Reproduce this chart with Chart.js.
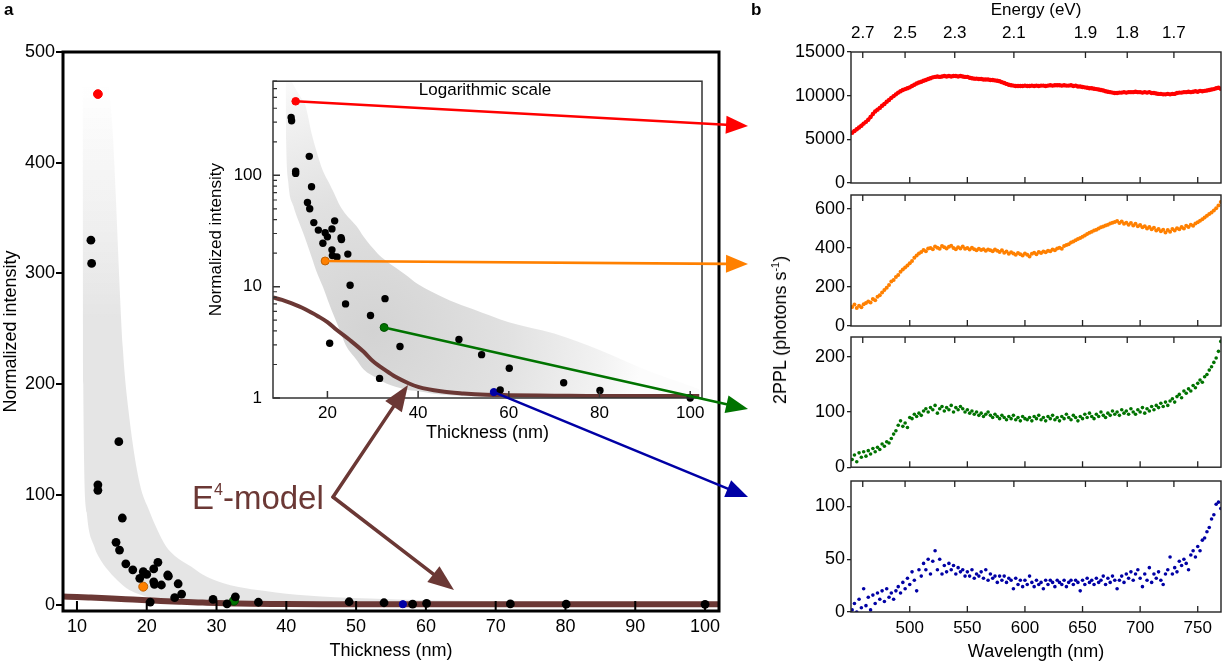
<!DOCTYPE html>
<html>
<head>
<meta charset="utf-8">
<script src="https://cdn.jsdelivr.net/npm/chart.js@4.4.1/dist/chart.umd.min.js"></script>
<style>
  body { margin: 0; background: #fff; font-family: 'Liberation Sans', Arial, sans-serif; }
  #page { position: relative; width: 1225px; height: 665px; overflow: hidden; background: #fff; }
  canvas { position: absolute; }
  .lbl { position: absolute; white-space: nowrap; color: #000; line-height: 1; }
</style>
</head>
<body>
<div id="page">
  <canvas id="mainChart" width="740" height="665" style="left:0px;top:0px"></canvas>
  <canvas id="insetChart" width="510" height="390" style="left:200px;top:60px"></canvas>
  <canvas id="redChart" width="465" height="200" style="left:760px;top:0px"></canvas>
  <canvas id="orangeChart" width="465" height="160" style="left:760px;top:180px"></canvas>
  <canvas id="greenChart" width="465" height="160" style="left:760px;top:320px"></canvas>
  <canvas id="blueChart" width="465" height="205" style="left:760px;top:460px"></canvas>
  <canvas id="arrows" width="1225" height="665" style="left:0px;top:0px"></canvas>
  <div class="lbl" style="left:4px;top:0px;font-weight:bold;font-size:17px;line-height:normal">a</div>
  <div class="lbl" style="left:751px;top:0px;font-weight:bold;font-size:17px;line-height:normal">b</div>
  <div class="lbl" style="left:485px;top:89px;font-size:17px;transform:translate(-50%,-50%)">Logarithmic scale</div>
  <div class="lbl" style="left:192px;top:497px;font-size:33px;color:#6b3835;transform:translateY(-50%)">E<span style="font-size:16px;position:relative;top:-14px">4</span>-model</div>
  <div class="lbl" style="left:780px;top:330px;font-size:18px;transform:translate(-50%,-50%) rotate(-90deg)">2PPL (photons s<span style="font-size:11px;position:relative;top:-7px">-1</span>)</div>
</div>
<script>
// ---- panel a: thickness dependence ----
const thickness = [12.0, 12.1, 13.0, 13.0, 15.6, 16.0, 16.1, 16.5, 17.0, 18.0, 19.0, 19.5, 20.0, 20.5, 21.0, 21.0, 21.1, 21.6, 22.1, 23.0, 23.1, 24.0, 24.5, 25.0, 29.5, 31.5, 32.7, 36.0, 49.0, 54.0, 58.1, 60.1, 72.1, 80.1, 100];
const intensity = [330, 309, 109, 104, 57, 148, 50, 79, 37.6, 32.2, 24.5, 30.5, 28, 3.1, 33, 21.4, 19, 39, 18.5, 27.5, 26.5, 7.0, 19.6, 10.3, 5.5, 1.5, 7.8, 2.9, 3.35, 2.45, 1.18, 1.85, 1.37, 1.17, 1.0];

// the four samples whose spectra are shown in b (red, orange, green, blue)
const hlThickness = [13.0, 19.5, 32.5, 56.7];
const hlIntensity = [462, 17, 4.3, 1.13];

// grey band (spread of the data)
const bandT    = [10.8, 10.9, 11.4, 12.5, 13.5, 14.7, 15.1, 16.6, 17.5, 19, 20.4, 21.4, 22.8, 24, 26.4, 28, 31, 33, 37, 40, 43, 47, 52, 60, 70, 80, 90, 102];
const bandLow  = [440, 200, 84, 53, 40, 30, 27, 18, 14, 10, 7, 5.5, 4, 3, 2.2, 1.8, 1.5, 1.35, 1.2, 1.15, 1.1, 1.06, 1.03, 1.01, 1, 1, 1, 1];
const bandHigh = [900, 880, 800, 650, 550, 460, 430, 230, 170, 110, 85, 70, 53, 45, 35, 28, 20, 17, 13, 10.5, 9, 7.5, 6.3, 4.8, 3.8, 2.7, 1.8, 1.2];

// E4-model curve
const modelT = [8, 10, 12, 15, 18, 20, 22, 25, 28, 30, 33, 35, 38, 40, 45, 50, 55, 60, 70, 80, 90, 102];
const modelV = [8.0, 7.6, 7.1, 6.3, 5.4, 4.8, 4.1, 3.3, 2.6, 2.15, 1.75, 1.55, 1.35, 1.26, 1.15, 1.1, 1.07, 1.06, 1.05, 1.04, 1.04, 1.04];

const mainXTicks = [10, 20, 30, 40, 50, 60, 70, 80, 90, 100];
const mainYTicks = [0, 100, 200, 300, 400, 500];
const insetXTicks = [20, 40, 60, 80, 100];
const insetYTicks = [1, 10, 100];
const insetMinorTicks = [2, 3, 4, 5, 6, 7, 8, 9, 20, 30, 40, 50, 60, 70, 80, 90, 200, 300, 400, 500, 600, 700];

// ---- panel b: 2PPL spectra ----
const wavelength = [
  450,452,454,456,458,460,462,464,466,468,470,472,474,476,478,480,482,484,486,488,
  490,492,494,496,498,500,502,504,506,508,510,512,514,516,518,520,522,524,526,528,
  530,532,534,536,538,540,542,544,546,548,550,552,554,556,558,560,562,564,566,568,
  570,572,574,576,578,580,582,584,586,588,590,592,594,596,598,600,602,604,606,608,
  610,612,614,616,618,620,622,624,626,628,630,632,634,636,638,640,642,644,646,648,
  650,652,654,656,658,660,662,664,666,668,670,672,674,676,678,680,682,684,686,688,
  690,692,694,696,698,700,702,704,706,708,710,712,714,716,718,720,722,724,726,728,
  730,732,734,736,738,740,742,744,746,748,750,752,754,756,758,760,762,764,766,768,
  770];
const redSpec = [
  5750,5950,6150,6350,6550,6800,7000,7250,7550,7900,8200,8400,8600,8850,9050,9300,9500,9750,9950,10150,
  10350,10500,10650,10750,10850,10950,11100,11250,11400,11500,11600,11700,11800,11900,12000,12100,12150,12200,12150,12200,
  12250,12200,12250,12200,12250,12250,12200,12250,12200,12150,12150,12050,12000,11950,11950,11900,11900,11850,11850,11850,
  11800,11800,11750,11700,11650,11550,11450,11350,11250,11200,11150,11100,11100,11100,11100,11150,11100,11100,11150,11100,
  11150,11100,11150,11150,11100,11150,11200,11150,11200,11200,11200,11150,11200,11150,11150,11200,11100,11150,11050,11050,
  11000,10950,10900,10850,10850,10800,10750,10700,10650,10600,10500,10450,10400,10350,10300,10300,10350,10350,10400,10350,
  10400,10400,10400,10450,10400,10400,10350,10400,10350,10400,10300,10300,10250,10200,10200,10150,10150,10200,10150,10200,
  10200,10300,10350,10350,10400,10400,10450,10400,10450,10500,10450,10550,10500,10550,10600,10650,10700,10750,10850,10900,
  10800];
const orangeSpec = [
  98,110,92,104,96,112,118,126,120,138,132,150,158,172,185,196,210,228,236,252,
  262,278,290,300,310,322,334,350,362,372,380,390,384,398,400,394,408,402,396,410,
  404,398,406,412,400,394,404,398,408,396,400,392,402,394,388,396,390,394,386,392,
  388,384,392,386,380,388,376,382,370,378,372,366,374,368,362,372,366,356,370,376,
  368,380,374,382,378,386,384,392,388,398,402,396,410,416,420,428,434,440,446,452,
  458,464,472,478,484,490,494,500,506,510,516,520,526,530,534,538,528,536,524,530,
  520,528,516,524,512,518,506,512,500,508,496,504,490,498,486,494,480,492,484,498,
  490,502,496,508,500,514,508,520,514,526,532,540,548,556,566,574,582,592,604,618,
  636];
const greenSpec = [
  14,22,10,26,18,28,20,30,24,34,28,36,32,42,38,46,44,52,60,66,
  76,84,74,80,72,90,88,96,92,98,94,102,106,100,108,104,112,98,106,110,
  102,108,104,112,100,108,104,110,106,100,104,98,102,96,100,94,98,92,96,100,
  94,90,96,92,88,94,90,86,92,88,94,86,90,84,92,88,86,90,84,92,
  88,94,86,90,84,92,88,94,86,90,84,92,88,96,90,86,94,90,84,92,
  88,96,90,98,92,88,96,92,100,94,90,98,94,102,96,100,94,104,98,102,
  96,106,100,96,104,100,108,98,106,102,110,104,112,108,116,110,118,112,120,124,
  118,128,132,126,138,134,142,138,148,144,152,158,154,164,168,176,182,190,198,210,
  228];
const blueSpec = [
  2,8,0,12,4,22,6,14,2,16,8,18,12,20,10,22,14,18,12,20,
  24,18,28,22,32,26,38,30,20,40,34,46,40,50,36,48,58,40,50,36,
  44,38,46,40,44,36,42,38,40,34,38,34,40,32,36,34,38,32,40,30,
  36,32,34,28,34,30,34,28,32,30,22,32,26,30,24,30,26,34,28,24,
  30,26,28,22,30,26,30,28,24,30,28,26,30,24,28,30,26,30,28,20,
  30,26,32,28,30,26,32,28,30,34,26,32,28,34,30,22,30,34,28,36,
  32,38,30,36,40,32,24,36,30,42,28,36,32,38,30,26,36,40,52,36,
  42,38,48,44,50,46,40,54,58,52,62,58,68,70,76,80,88,92,102,104,
  98];

const wlTicks = [500, 550, 600, 650, 700, 750];
const energyTicks = [2.7, 2.5, 2.3, 2.1, 1.9, 1.8, 1.7];
const redTicks = [0, 5000, 10000, 15000];
const orangeTicks = [0, 200, 400, 600];
const greenTicks = [0, 100, 200];
const blueTicks = [0, 50, 100];

// ---- styling ----
const BROWN = '#6b3835';
const sampleColors = ['#ff0000', '#ff8000', '#007300', '#0000a5'];
const HC = 1239.84; // eV*nm

Chart.defaults.font.family = "'Liberation Sans', Arial, sans-serif";
Chart.defaults.color = '#000';

const xy = (xs, ys) => xs.map((x, i) => ({ x: x, y: ys[i] }));
const setTicks = vals => s => { s.ticks = vals.map(v => ({ value: v })); };

// box round the plot area plus inward tick marks
function frame(color, width, marks) {
  return {
    id: 'frame',
    afterDatasetsDraw(chart) {
      const { ctx, chartArea: a } = chart;
      ctx.save();
      ctx.strokeStyle = color;
      ctx.lineWidth = width;
      ctx.strokeRect(a.left, a.top, a.right - a.left, a.bottom - a.top);
      marks.forEach(m => {
        const s = chart.scales[m.axis];
        ctx.lineWidth = m.width;
        ctx.beginPath();
        m.values.forEach(v => {
          const p = s.getPixelForValue(v);
          if (m.side === 'bottom') { ctx.moveTo(p, a.bottom); ctx.lineTo(p, a.bottom - m.len); }
          else if (m.side === 'top') { ctx.moveTo(p, a.top); ctx.lineTo(p, a.top + m.len); }
          else { ctx.moveTo(a.left, p); ctx.lineTo(a.left + m.len, p); }
        });
        ctx.stroke();
      });
      ctx.restore();
    }
  };
}

const baseOpts = {
  responsive: false,
  animation: false,
  devicePixelRatio: 1,
  events: [],
};

// ---- main chart (linear) ----
const mainChart = new Chart(document.getElementById('mainChart'), {
  type: 'scatter',
  data: {
    datasets: [
      { data: xy(thickness, intensity), pointRadius: 4.4, pointBackgroundColor: '#000', pointBorderWidth: 0, order: 0, clip: false },
      { data: xy(hlThickness, hlIntensity), pointRadius: [4.4, 4.5, 4.5, 3.6], pointBackgroundColor: sampleColors,
        pointBorderColor: ['#ff0000', '#c06000', '#004d00', '#0000a5'], pointBorderWidth: 1, order: 0, clip: false },
      { type: 'line', data: xy(modelT, modelV), borderColor: BROWN, borderWidth: 6, pointRadius: 0,
        cubicInterpolationMode: 'monotone', order: 1 },
      { type: 'line', data: xy(bandT, bandHigh), borderWidth: 0, pointRadius: 0, cubicInterpolationMode: 'monotone',
        fill: '+1', order: 2,
        backgroundColor: c => {
          const ch = c.chart, y = ch.scales.y;
          if (!ch.chartArea || !y) return '#e5e5e5';
          const g = ch.ctx.createLinearGradient(0, y.getPixelForValue(470), 0, y.getPixelForValue(260));
          g.addColorStop(0, 'rgba(229,229,229,0)');
          g.addColorStop(1, 'rgba(229,229,229,1)');
          return g;
        } },
      { type: 'line', data: xy(bandT, bandLow), borderWidth: 0, pointRadius: 0, cubicInterpolationMode: 'monotone', order: 2 },
    ]
  },
  options: Object.assign({}, baseOpts, {
    layout: { padding: { top: 52, right: 21, left: 0, bottom: 0 } },
    plugins: { legend: { display: false }, tooltip: { enabled: false } },
    scales: {
      x: {
        type: 'linear', min: 8, max: 102,
        afterBuildTicks: setTicks(mainXTicks),
        afterFit: s => { s.height = 54; },
        grid: { display: false, drawTicks: false }, border: { display: false },
        ticks: { font: { size: 18 }, padding: 5, maxRotation: 0, autoSkip: false },
        title: { display: true, text: 'Thickness (nm)', font: { size: 18 }, padding: { top: 0, bottom: 3 } }
      },
      y: {
        min: -5, max: 500,
        afterBuildTicks: setTicks(mainYTicks),
        afterFit: s => { s.width = 63; },
        grid: { display: true, drawOnChartArea: false, drawTicks: true, tickLength: 7, lineWidth: 2, color: '#000' },
        border: { display: false },
        ticks: { font: { size: 18 }, padding: 1 },
        title: { display: true, text: 'Normalized intensity', font: { size: 18 }, padding: 0 }
      }
    }
  }),
  plugins: [frame('#000', 3, [{ axis: 'x', side: 'bottom', len: 10, width: 2, values: mainXTicks }])]
});

// ---- inset (logarithmic) ----
const insetChart = new Chart(document.getElementById('insetChart'), {
  type: 'scatter',
  data: {
    datasets: [
      { data: xy(thickness, intensity), pointRadius: 3.7, pointBackgroundColor: '#000', pointBorderWidth: 0, order: 0, clip: false },
      { data: xy(hlThickness, hlIntensity), pointRadius: [3.8, 4, 4, 3.6], pointBackgroundColor: sampleColors,
        pointBorderColor: ['#ff0000', '#c06000', '#004d00', '#0000a5'], pointBorderWidth: 1, order: 0, clip: false },
      { type: 'line', data: xy(modelT, modelV), borderColor: BROWN, borderWidth: 4, pointRadius: 0,
        cubicInterpolationMode: 'monotone', order: 1 },
      { type: 'line', data: xy(bandT, bandHigh), borderWidth: 0, pointRadius: 0, cubicInterpolationMode: 'monotone',
        fill: '+1', order: 2,
        backgroundColor: c => {
          const ch = c.chart, x = ch.scales.x, y = ch.scales.y;
          if (!ch.chartArea || !x || !y) return '#e0e0e0';
          const cx = x.getPixelForValue(30), cy = y.getPixelForValue(4);
          const g = ch.ctx.createRadialGradient(cx, cy, 0, cx, cy, 270);
          g.addColorStop(0, '#d3d3d3');
          g.addColorStop(0.5, '#e1e1e1');
          g.addColorStop(0.85, '#f2f2f2');
          g.addColorStop(1, '#fcfcfc');
          return g;
        } },
      { type: 'line', data: xy(bandT, bandLow), borderWidth: 0, pointRadius: 0, cubicInterpolationMode: 'monotone', order: 2 },
    ]
  },
  options: Object.assign({}, baseOpts, {
    layout: { padding: { top: 9, right: 8, left: 0, bottom: 0 } },
    plugins: { legend: { display: false }, tooltip: { enabled: false } },
    scales: {
      x: {
        type: 'linear', min: 8, max: 102.6,
        afterBuildTicks: setTicks(insetXTicks),
        afterFit: s => { s.height = 52; },
        grid: { display: false, drawTicks: false }, border: { display: false },
        ticks: { font: { size: 17 }, padding: 5, maxRotation: 0, autoSkip: false },
        title: { display: true, text: 'Thickness (nm)', font: { size: 18 }, padding: { top: 0, bottom: 6 } }
      },
      y: {
        type: 'logarithmic', min: 1, max: 700,
        afterBuildTicks: setTicks(insetYTicks),
        afterFit: s => { s.width = 73; },
        grid: { display: false, drawTicks: false }, border: { display: false },
        ticks: { font: { size: 17 }, padding: 11, callback: v => String(v) },
        title: { display: true, text: 'Normalized intensity', font: { size: 17 }, padding: { top: 6, bottom: 0 } }
      }
    }
  }),
  plugins: [frame('#333', 1.5, [
    { axis: 'x', side: 'bottom', len: 7, width: 1.5, values: insetXTicks },
    { axis: 'y', side: 'left', len: 7, width: 1.5, values: insetYTicks },
    { axis: 'y', side: 'left', len: 4, width: 1.2, values: insetMinorTicks },
  ])]
});

// ---- spectra ----
const wlMin = 449, wlMax = 770.2;
const energyPos = energyTicks.map(e => HC / e);

function spectrum(id, values, color, radius, yMax, yTicks, cfg) {
  const scales = {
    x: {
      type: 'linear', min: wlMin, max: wlMax,
      afterBuildTicks: setTicks(wlTicks),
      afterFit: s => { s.height = cfg.bottomH; },
      grid: { display: false, drawTicks: false }, border: { display: false },
      ticks: { display: cfg.labels, font: { size: 17 }, padding: 6, maxRotation: 0, autoSkip: false, callback: v => String(v) },
      title: { display: cfg.labels, text: 'Wavelength (nm)', font: { size: 18 }, padding: { top: 0, bottom: 2 } }
    },
    y: {
      min: 0, max: yMax,
      afterBuildTicks: setTicks(yTicks),
      afterFit: s => { s.width = 91; },
      grid: { display: true, drawOnChartArea: false, drawTicks: true, tickLength: 4, lineWidth: 1.3, color: '#222' },
      border: { display: false },
      ticks: { font: { size: 18 }, padding: 2, callback: v => String(v) }
    }
  };
  if (cfg.energy) {
    scales.xTop = {
      type: 'linear', position: 'top', min: wlMin, max: wlMax,
      afterBuildTicks: s => { s.ticks = energyPos.map(v => ({ value: v })); },
      afterFit: s => { s.height = 52; },
      grid: { display: false, drawTicks: false }, border: { display: false },
      ticks: { font: { size: 17 }, padding: 8, maxRotation: 0, autoSkip: false, callback: (v, i) => energyTicks[i].toFixed(1) },
      title: { display: true, text: 'Energy (eV)', font: { size: 17 }, padding: 0 }
    };
  }
  return new Chart(document.getElementById(id), {
    type: 'scatter',
    data: {
      datasets: [{
        data: xy(wavelength, values), xAxisID: 'x', yAxisID: 'y',
        pointRadius: radius, pointBackgroundColor: color, pointBorderWidth: 0,
        showLine: cfg.line, borderColor: color, borderWidth: 3
      }]
    },
    options: Object.assign({}, baseOpts, {
      layout: { padding: { top: cfg.padTop, right: 4, left: 0, bottom: 0 } },
      plugins: { legend: { display: false }, tooltip: { enabled: false } },
      scales: scales
    }),
    plugins: [frame('#222', 1.4, [
      { axis: 'x', side: 'bottom', len: 6, width: 1.3, values: wlTicks },
      { axis: 'x', side: 'top', len: 6, width: 1.3, values: energyPos },
    ])]
  });
}

const redChart = spectrum('redChart', redSpec, sampleColors[0], 2.2, 15000, redTicks,
  { energy: true, labels: false, line: true, padTop: 0, bottomH: 17 });
const orangeChart = spectrum('orangeChart', orangeSpec, sampleColors[1], 2.0, 672, orangeTicks,
  { energy: false, labels: false, line: false, padTop: 15, bottomH: 14 });
const greenChart = spectrum('greenChart', greenSpec, sampleColors[2], 1.8, 236, greenTicks,
  { energy: false, labels: false, line: false, padTop: 17, bottomH: 11 });
const blueChart = spectrum('blueChart', blueSpec, sampleColors[3], 1.8, 124, blueTicks,
  { energy: false, labels: true, line: false, padTop: 21, bottomH: 53 });

// ---- arrows linking a and b ----
function drawArrow(ctx, x1, y1, x2, y2, color, lw, hl, hw) {
  const ang = Math.atan2(y2 - y1, x2 - x1);
  const bx = x2 - hl * Math.cos(ang), by = y2 - hl * Math.sin(ang);
  ctx.strokeStyle = color;
  ctx.lineWidth = lw;
  ctx.beginPath();
  ctx.moveTo(x1, y1);
  ctx.lineTo(bx, by);
  ctx.stroke();
  ctx.fillStyle = color;
  ctx.beginPath();
  ctx.moveTo(x2, y2);
  ctx.lineTo(bx + hw / 2 * Math.sin(ang), by - hw / 2 * Math.cos(ang));
  ctx.lineTo(bx - hw / 2 * Math.sin(ang), by + hw / 2 * Math.cos(ang));
  ctx.closePath();
  ctx.fill();
}

const actx = document.getElementById('arrows').getContext('2d');
actx.lineCap = 'round';
const insetLeft = 200, insetTop = 60;
const arrowTips = [[748, 126], [748, 264], [748, 409], [748, 497]];
hlThickness.forEach((t, i) => {
  const sx = insetLeft + insetChart.scales.x.getPixelForValue(t);
  const sy = insetTop + insetChart.scales.y.getPixelForValue(hlIntensity[i]);
  drawArrow(actx, sx, sy, arrowTips[i][0], arrowTips[i][1], sampleColors[i], 2.6, 22, 18);
});
// E4-model pointers
drawArrow(actx, 333, 497, 408, 385, BROWN, 3.5, 26, 20);
drawArrow(actx, 333, 497, 454, 590, BROWN, 3.5, 26, 20);
</script>
</body>
</html>
